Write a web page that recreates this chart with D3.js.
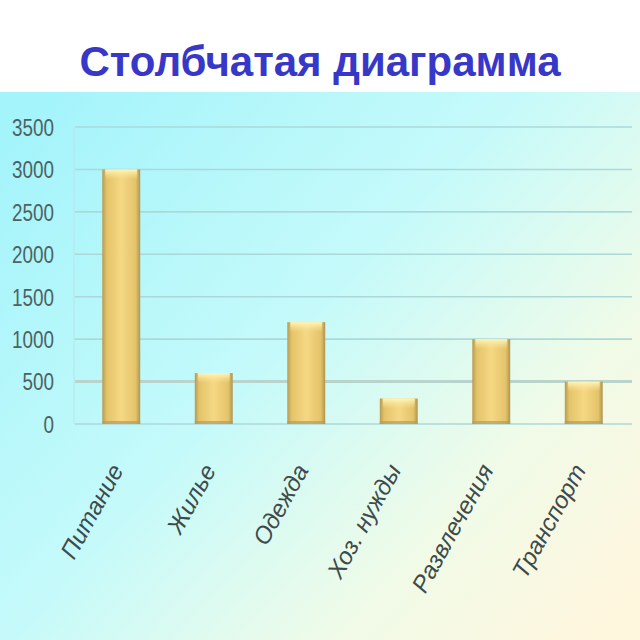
<!DOCTYPE html>
<html><head><meta charset="utf-8">
<script src="https://cdn.jsdelivr.net/npm/d3@7"></script>
<style>html,body{margin:0;padding:0;background:#fff;}svg{display:block;}</style>
</head><body>
<svg id="chart" width="640" height="640"></svg>
<script>
const categories = ["Питание", "Жилье", "Одежда", "Хоз. нужды", "Развлечения", "Транспорт"];
const values = [3000, 600, 1200, 300, 1000, 500];
const yTicks = [0, 500, 1000, 1500, 2000, 2500, 3000, 3500];
const title = "Столбчатая диаграмма";

const svg = d3.select("#chart");
const defs = svg.append("defs");

const bg = defs.append("linearGradient").attr("id","bg").attr("x1","0").attr("y1","0.1").attr("x2","1").attr("y2","0.9");
bg.append("stop").attr("offset","0").attr("stop-color","#a4f4fb");
bg.append("stop").attr("offset","0.45").attr("stop-color","#c6fafa");
bg.append("stop").attr("offset","0.75").attr("stop-color","#effbe8");
bg.append("stop").attr("offset","1").attr("stop-color","#fff6de");

const barG = defs.append("linearGradient").attr("id","barG").attr("x1","0").attr("y1","0").attr("x2","1").attr("y2","0");
barG.append("stop").attr("offset","0").attr("stop-color","#b89a50");
barG.append("stop").attr("offset","0.12").attr("stop-color","#e4c46a");
barG.append("stop").attr("offset","0.5").attr("stop-color","#f6d884");
barG.append("stop").attr("offset","0.88").attr("stop-color","#e4c46a");
barG.append("stop").attr("offset","1").attr("stop-color","#b09450");

const capG = defs.append("linearGradient").attr("id","capG").attr("x1","0").attr("y1","0").attr("x2","0").attr("y2","1");
capG.append("stop").attr("offset","0").attr("stop-color","#fff6b8");
capG.append("stop").attr("offset","1").attr("stop-color","#fbe59a").attr("stop-opacity","0");

svg.append("rect").attr("x",0).attr("y",92).attr("width",640).attr("height",548).attr("fill","url(#bg)");

svg.append("text").attr("x",320).attr("y",76).attr("text-anchor","middle")
  .attr("font-family","Liberation Sans, Arial, sans-serif").attr("font-weight","bold")
  .attr("font-size",42).attr("fill","#3838c8").text(title);

const x = d3.scaleBand().domain(categories).range([75, 630]).paddingInner(0.59).paddingOuter(0.295);
const y = d3.scaleLinear().domain([0, 3500]).range([424, 127]);

// gridlines
svg.append("g").selectAll("line").data(yTicks).join("line")
  .attr("x1",75).attr("x2",632).attr("y1",d=>y(d)).attr("y2",d=>y(d))
  .attr("stroke",d=>d===500?"#b8d4cc":"#acd8da").attr("stroke-width",d=>d===500?3:1.6);

svg.append("line").attr("x1",74).attr("x2",74).attr("y1",y(3500)).attr("y2",y(0))
  .attr("stroke","#b6e6ea").attr("stroke-width",1);

// y axis labels
const yAxis = d3.axisLeft(y).tickValues(yTicks).tickFormat(d3.format("d")).tickSize(0).tickPadding(0);
const ya = svg.append("g").attr("transform","translate(54,0)").call(yAxis);
ya.select(".domain").remove();
ya.selectAll(".tick text")
  .attr("font-family","Liberation Sans, Arial, sans-serif")
  .attr("font-size",23).attr("fill","#4e6262").attr("dy","0.36em")
  .attr("transform","scale(0.82,1)");

// bars
const bars = svg.append("g").selectAll("g").data(values).join("g");
bars.append("rect").attr("x",(d,i)=>x(categories[i])).attr("y",d=>y(d))
  .attr("width",x.bandwidth()).attr("height",d=>y(0)-y(d)).attr("fill","url(#barG)");
bars.append("rect").attr("x",(d,i)=>x(categories[i])+3).attr("y",d=>y(d))
  .attr("width",x.bandwidth()-6).attr("height",10).attr("fill","url(#capG)");
bars.append("rect").attr("x",(d,i)=>x(categories[i])).attr("y",y(0)-3)
  .attr("width",x.bandwidth()).attr("height",3).attr("fill","#b89a5a").attr("opacity",0.7);

// x labels
svg.append("g").selectAll("text").data(categories).join("text")
  .attr("transform",d=>`translate(${x(d)+x.bandwidth()/2+3},470) rotate(-61)`)
  .attr("text-anchor","end")
  .attr("font-family","Liberation Sans, Arial, sans-serif").attr("font-style","italic")
  .attr("font-size",24).attr("fill","#404a4a").text(d=>d);
</script>
</body></html>
